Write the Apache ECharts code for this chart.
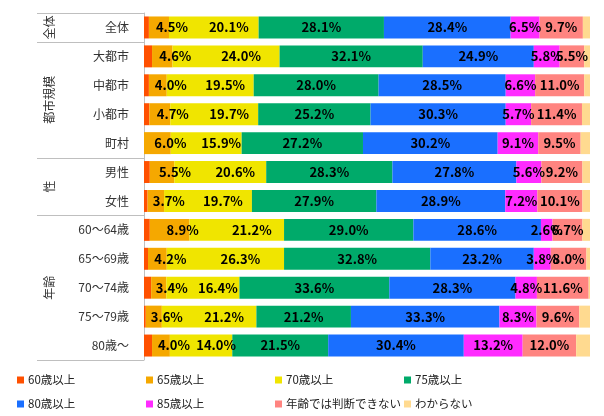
<!DOCTYPE html>
<html>
<head>
<meta charset="utf-8">
<script src="https://cdn.jsdelivr.net/npm/echarts@6/dist/echarts.min.js"></script>
<style>
html,body{margin:0;padding:0;background:#fff;}
#chart{width:604px;height:416px;}
</style>
</head>
<body>
<div id="chart"></div>
<script>
//行ラベル
let categories = ['全体','大都市','中都市','小都市','町村','男性','女性','60～64歳','65～69歳','70～74歳','75～79歳','80歳～'];
//グループ
let groupNames = ['全体','都市規模','性','年齢'];
let groupSizes = [1,4,2,5];
//系列
let seriesNames = ['60歳以上','65歳以上','70歳以上','75歳以上','80歳以上','85歳以上','年齢では判断できない','わからない'];
let age60 = [1.1,1.8,1.1,1.2,0,1.3,0.8,1.3,0.9,1.6,0.4,1.8];
let age65 = [4.5,4.6,4.0,4.7,6.0,5.5,3.7,8.9,4.2,3.4,3.6,4.0];
let age70 = [20.1,24.0,19.5,19.7,15.9,20.6,19.7,21.2,26.3,16.4,21.2,14.0];
let age75 = [28.1,32.1,28.0,25.2,27.2,28.3,27.9,29.0,32.8,33.6,21.2,21.5];
let age80 = [28.4,24.9,28.5,30.3,30.2,27.8,28.9,28.6,23.2,28.3,33.3,30.4];
let age85 = [6.5,5.8,6.6,5.7,9.1,5.6,7.2,2.6,3.8,4.8,8.3,13.2];
let unknownAge = [9.7,5.5,11.0,11.4,9.5,9.2,10.1,6.7,8.0,11.6,9.6,12.0];
let dontKnow = [1.6,1.3,1.3,1.8,2.1,1.7,1.7,1.7,0.8,0.3,2.4,3.1];

let allValues = [age60, age65, age70, age75, age80, age85, unknownAge, dontKnow];
let colors = ['#FF5000','#F5A800','#F0E500','#00AA6A','#1A6FFF','#FF2BFF','#FF8480','#FFDA90'];
let showLabel = [false,true,true,true,true,true,true,false];
let labelShift = [0,13,15,0,0,0,0,0];

let font = '"Noto Sans CJK JP", sans-serif';

let chartDOM = document.getElementById('chart');
let chart = echarts.init(chartDOM);

let seriesList = [];
for(let i = 0; i < seriesNames.length; i++){
    seriesList.push({
        name: seriesNames[i],
        type: 'bar',
        stack: 'total',
        barWidth: '76%',
        data: allValues[i],
        itemStyle: { color: colors[i] },
        label: {
            show: showLabel[i],
            position: 'inside',
            offset: [labelShift[i], 0],
            color: '#000',
            fontSize: 13,
            fontWeight: 'bold',
            fontFamily: font,
            formatter: function(p){ return p.value.toFixed(1) + '%'; }
        },
        emphasis: { disabled: true }
    });
}

let opts = {
    animation: false,
    grid: { left: 144, right: 14, top: 13, bottom: 56 },
    xAxis: { type: 'value', min: 0, max: 100, show: false },
    yAxis: {
        type: 'category',
        inverse: true,
        data: categories,
        axisLine: { show: true, lineStyle: { color: '#BFBFBF', width: 1 } },
        axisTick: { show: false },
        axisLabel: { color: '#333', fontSize: 12, fontFamily: font, margin: 15 }
    },
    legend: {
        data: seriesNames,
        left: 17,
        top: 368,
        width: 560,
        padding: 0,
        itemWidth: 7,
        itemHeight: 7,
        itemGap: 0,
        icon: 'rect',
        textStyle: { fontSize: 11.5, fontFamily: font, color: '#222', width: 118, lineHeight: 24, padding: [0, 0, 0, -1] }
    },
    series: seriesList
};
chart.setOption(opts);

//グループ区切りとラベル
let y0 = chart.convertToPixel({ yAxisIndex: 0 }, 0);
let y1 = chart.convertToPixel({ yAxisIndex: 0 }, 1);
let pitch = y1 - y0;
let graphics = [];
let lineStyle = { stroke: '#BFBFBF', lineWidth: 1 };
let startIdx = 0;
graphics.push({ type: 'line', shape: { x1: 37, y1: Math.round(y0 - pitch / 2) + 0.5, x2: 144, y2: Math.round(y0 - pitch / 2) + 0.5 }, style: lineStyle });
for(let g = 0; g < groupNames.length; g++){
    let endIdx = startIdx + groupSizes[g] - 1;
    let top = chart.convertToPixel({ yAxisIndex: 0 }, startIdx) - pitch / 2;
    let bottom = chart.convertToPixel({ yAxisIndex: 0 }, endIdx) + pitch / 2;
    let yb = Math.round(bottom) + 0.5;
    graphics.push({ type: 'line', shape: { x1: 37, y1: yb, x2: 144, y2: yb }, style: lineStyle });
    graphics.push({
        type: 'text',
        x: 49,
        y: (top + bottom) / 2,
        rotation: Math.PI / 2,
        style: { text: groupNames[g], fill: '#333', font: '12px ' + font, align: 'center', verticalAlign: 'middle' }
    });
    startIdx = endIdx + 1;
}
chart.setOption({ graphic: graphics });
</script>
</body>
</html>
